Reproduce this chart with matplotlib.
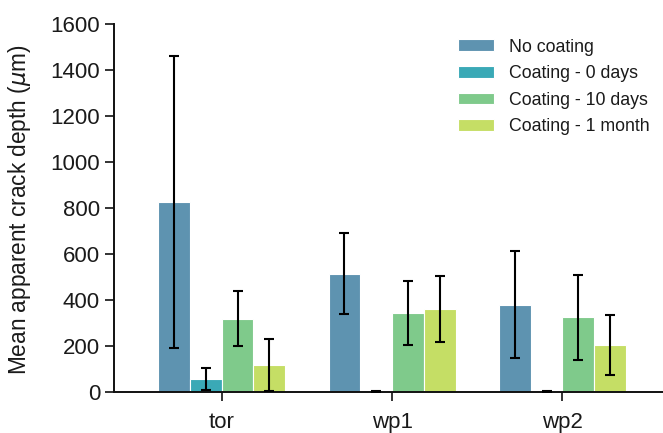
import matplotlib
matplotlib.use("Agg")
import matplotlib.pyplot as plt
import numpy as np

categories = ["tor", "wp1", "wp2"]
series_names = ["No coating", "Coating - 0 days", "Coating - 10 days", "Coating - 1 month"]
no_coating = [826, 516, 381]
coating_0d = [56, 3, 3]
coating_10d = [320, 346, 325]
coating_1m = [119, 362, 206]
err_no_coating = [635, 178, 232]
err_0d = [48, 2, 2]
err_10d = [121, 139, 183]
err_1m = [112, 142, 131]
y_ticks = [0, 200, 400, 600, 800, 1000, 1200, 1400, 1600]

colors = ["#5e93b0", "#3aa9b6", "#7fca8b", "#c5de65"]

plt.rcParams['font.family'] = ['Liberation Sans', 'DejaVu Sans']

fig = plt.figure(figsize=(6.63, 4.33), dpi=100)
ax = fig.add_axes([114/663, 1-392.3/433, 1-114/663, (392.3-24)/433])

values = [no_coating, coating_0d, coating_10d, coating_1m]
errors = [err_no_coating, err_0d, err_10d, err_1m]
x = np.arange(len(categories))
w = 0.1865
for i, (v, e, c, name) in enumerate(zip(values, errors, colors, series_names)):
    pos = x + (i - 1.5) * w
    ax.bar(pos, v, width=w, color=c, edgecolor="white", linewidth=0.8, label=name, zorder=2)
    ax.errorbar(pos, v, yerr=e, fmt="none", ecolor="black", elinewidth=1.5,
                capsize=3.3, capthick=1.5, zorder=3)

ax.set_xlim(-0.632, 2.59)
ax.set_ylim(0, 1600)
ax.set_yticks(y_ticks)
ax.set_xticks(x)
ax.set_xticklabels(categories)
ax.tick_params(axis="both", labelsize=16, length=6.5, width=1.2, direction="out", colors="#111111", labelcolor="#1a1a1a")
ax.tick_params(axis="x", pad=8)
for s in ["top", "right"]:
    ax.spines[s].set_visible(False)
for s in ["left", "bottom"]:
    ax.spines[s].set_linewidth(1.4)
    ax.spines[s].set_color("#111111")
ax.set_ylabel(r"Mean apparent crack depth ($\mu$m)", fontsize=16.3, color="#1a1a1a")
ax.yaxis.set_label_coords(-0.1475, 0.495)

leg = ax.legend(loc="upper left", bbox_to_anchor=(457.7/663, 1-38.5/433), bbox_transform=fig.transFigure,
                frameon=False, borderpad=0, borderaxespad=0, fontsize=12.8,
                handlelength=2.03, handleheight=0.62, handletextpad=0.86, labelspacing=0.54)
for t in leg.get_texts():
    t.set_color("#1a1a1a")

fig.savefig("out.png", dpi=100)
